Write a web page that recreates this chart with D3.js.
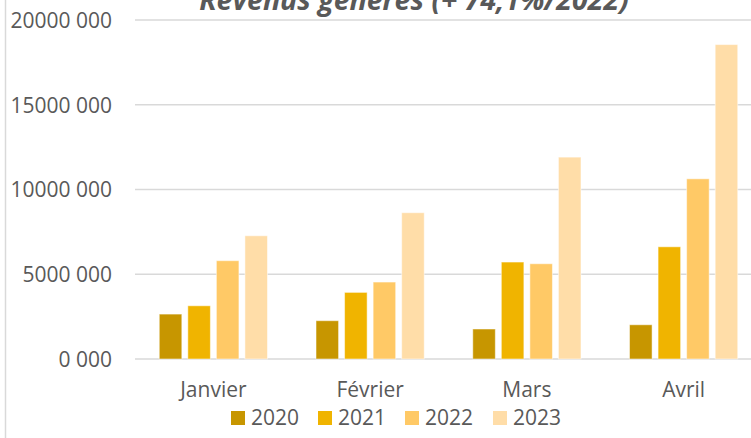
<!DOCTYPE html>
<html>
<head>
<meta charset="utf-8">
<script src="https://cdn.jsdelivr.net/npm/d3@7"></script>
<style>
    body { margin: 0; background: #fff; }
    svg { display: block; font-family: "Open Sans", sans-serif; }
</style>
</head>
<body>
<svg id="chart"></svg>
<script>
// données
let months = ['Janvier', 'Février', 'Mars', 'Avril'];
let years = ['2020', '2021', '2022', '2023'];
let values2020 = [2650000, 2260000, 1770000, 2020000];
let values2021 = [3140000, 3930000, 5720000, 6620000];
let values2022 = [5800000, 4540000, 5620000, 10630000];
let values2023 = [7270000, 8630000, 11910000, 18550000];
let yTicks = [0, 5000000, 10000000, 15000000, 20000000];
let colors = ['#C79600', '#F0B400', '#FFC966', '#FFDDA8'];

const width = 751;
const height = 438;
const marginLeft = 135;
const plotRight = 762;
const plotTop = 20;
const plotBottom = 359;

let series = [values2020, values2021, values2022, values2023];
let data = months.map((m, i) => ({
    month: m,
    vals: years.map((y, j) => ({ year: y, value: series[j][i] }))
}));

let svg = d3.select("#chart").attr("width", width).attr("height", height);

let scaleX = d3.scaleBand().domain(months).range([marginLeft, plotRight]).padding(0);
let scaleInner = d3.scaleBand().domain(years).range([0, scaleX.bandwidth()])
    .paddingInner(0.21).paddingOuter(0.85);
let scaleY = d3.scaleLinear().domain([0, 20000000]).range([plotBottom, plotTop]);

// bordure gauche
svg.append("line")
    .attr("x1", 5.5).attr("x2", 5.5).attr("y1", 0).attr("y2", height)
    .attr("stroke", "#d9d9d9").attr("stroke-width", 1.5);

// grille
svg.append("g").selectAll("line")
    .data(yTicks)
    .enter()
    .append("line")
    .attr("x1", marginLeft).attr("x2", plotRight)
    .attr("y1", d => scaleY(d)).attr("y2", d => scaleY(d))
    .attr("stroke", "#d9d9d9").attr("stroke-width", 1.5);

// axe Y
let axisY = d3.axisLeft(scaleY).tickValues(yTicks).tickSize(0).tickPadding(0)
    .tickFormat(d => Math.floor(d / 1000) + ' 000');
let gy = svg.append("g").attr("transform", `translate(112, 0)`).call(axisY);
gy.select(".domain").remove();
gy.selectAll("text").attr("fill", "#595959").style("font-size", "21px")
    .style("font-family", "Open Sans").attr("dy", "0.35em");

// barres
let groups = svg.selectAll(".group")
    .data(data)
    .enter()
    .append("g")
    .attr("class", "group")
    .attr("transform", d => `translate(${scaleX(d.month)}, 0)`);

groups.selectAll("rect")
    .data(d => d.vals)
    .enter()
    .append("rect")
    .attr("x", d => scaleInner(d.year))
    .attr("y", d => scaleY(d.value))
    .attr("width", scaleInner.bandwidth())
    .attr("height", d => scaleY(0) - scaleY(d.value))
    .attr("fill", (d, i) => colors[i])
    .attr("stroke", "#ffffff").attr("stroke-opacity", 0.5).attr("stroke-width", 1);

// axe X
let axisX = d3.axisBottom(scaleX).tickSize(0).tickPadding(0);
let gx = svg.append("g").attr("transform", `translate(0, 397)`).call(axisX);
gx.select(".domain").remove();
gx.selectAll("text").attr("fill", "#595959").style("font-size", "21px")
    .style("font-family", "Open Sans").attr("dy", "0");

// légende
let legendX = [231, 318, 405, 493];
let legend = svg.selectAll(".legend")
    .data(years)
    .enter()
    .append("g")
    .attr("class", "legend")
    .attr("transform", (d, i) => `translate(${legendX[i]}, 411)`);
legend.append("rect").attr("width", 14).attr("height", 14).attr("fill", (d, i) => colors[i]);
legend.append("text").attr("x", 20).attr("y", 14)
    .attr("fill", "#595959").style("font-size", "21px").text(d => d);

// titre (coupé en haut, comme sur l'original)
svg.append("text")
    .attr("x", 414).attr("y", 10)
    .attr("text-anchor", "middle")
    .attr("fill", "#595959")
    .style("font-size", "28.5px").style("font-weight", "bold").style("font-style", "italic")
    .text("Revenus générés (+ 74,1%/2022)");
</script>
</body>
</html>
